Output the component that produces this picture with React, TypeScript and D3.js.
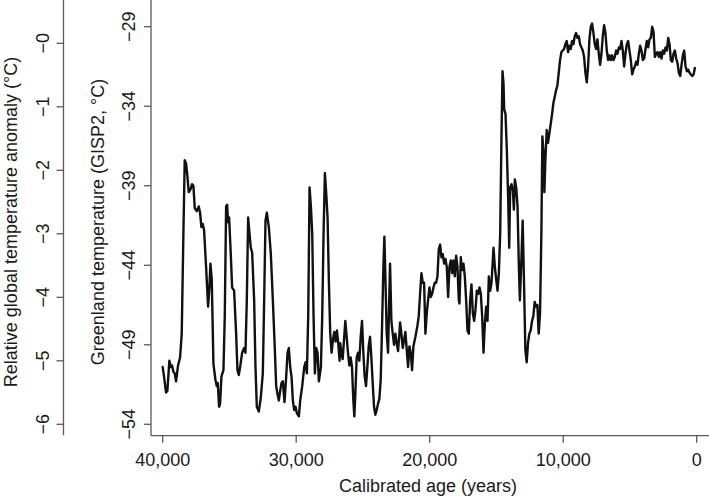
import React from "react";
import { scaleLinear, line, format } from "d3";

// GISP2 Greenland temperature: [calibrated age (yr), temp (°C)]
const gisp2Record: [number, number][] = [
  [40000, -50.4], [39900, -51.0], [39750, -52.0], [39650, -51.9], [39500, -50.0], [39400, -50.4],
  [39300, -50.3], [39200, -50.7], [39100, -50.8], [39000, -51.3], [38850, -50.3], [38700, -49.8],
  [38575, -48.3], [38450, -42.0], [38350, -37.4], [38250, -37.6], [38150, -38.4], [38050, -39.4],
  [37900, -39.2], [37800, -38.9], [37700, -39.0], [37600, -40.4], [37450, -40.6], [37300, -40.3],
  [37200, -40.7], [37100, -41.6], [37000, -41.4], [36900, -41.8], [36750, -44.1], [36600, -46.6],
  [36500, -45.4], [36425, -43.9], [36325, -44.9], [36200, -50.2], [36050, -51.2], [35950, -51.6],
  [35875, -51.4], [35775, -52.9], [35700, -52.7], [35600, -51.0], [35450, -50.6], [35350, -47.2],
  [35250, -40.3], [35175, -40.2], [35100, -41.3], [35025, -41.0], [34900, -43.3], [34800, -45.4],
  [34650, -45.6], [34500, -48.3], [34400, -50.6], [34300, -50.9], [34200, -50.4], [34050, -49.5],
  [33900, -49.2], [33800, -49.5], [33700, -46.2], [33600, -41.0], [33500, -42.0], [33400, -42.9],
  [33300, -43.2], [33150, -46.2], [33050, -50.4], [32950, -52.9], [32800, -53.2], [32650, -52.3],
  [32500, -50.8], [32400, -46.2], [32300, -41.2], [32200, -40.7], [32050, -41.6], [31900, -43.3],
  [31750, -46.2], [31600, -49.3], [31500, -51.6], [31400, -52.1], [31300, -52.5], [31200, -51.9],
  [31100, -51.4], [31000, -51.3], [30875, -52.6], [30750, -51.0], [30650, -49.5], [30550, -49.2],
  [30450, -50.4], [30350, -51.0], [30250, -52.5], [30150, -53.1], [30050, -52.9], [29950, -53.3],
  [29800, -53.5], [29700, -52.5], [29550, -51.6], [29400, -50.4], [29300, -50.1], [29200, -50.8],
  [29100, -47.2], [29000, -39.1], [28900, -40.3], [28800, -42.0], [28700, -47.2], [28600, -50.8],
  [28500, -49.2], [28400, -49.5], [28300, -51.3], [28150, -50.4], [28050, -47.2], [27950, -42.0],
  [27850, -38.2], [27750, -39.5], [27650, -41.0], [27550, -45.1], [27450, -48.3], [27350, -49.5],
  [27250, -48.7], [27150, -48.2], [27050, -48.8], [26950, -48.1], [26850, -48.9], [26750, -50.0],
  [26700, -48.9], [26620, -49.5], [26520, -49.9], [26420, -48.7], [26320, -47.5], [26220, -48.5],
  [26120, -49.5], [26020, -50.3], [25920, -49.8], [25820, -50.4], [25720, -52.5], [25645, -53.5],
  [25570, -52.1], [25470, -49.8], [25370, -49.5], [25270, -50.0], [25170, -48.5], [25070, -47.5],
  [24970, -49.5], [24870, -51.0], [24770, -51.6], [24670, -50.4], [24570, -49.1], [24470, -48.5],
  [24370, -49.8], [24270, -51.4], [24170, -52.9], [24070, -53.4], [23970, -53.1], [23870, -52.7],
  [23770, -52.4], [23670, -51.2], [23570, -47.9], [23470, -44.1], [23395, -42.2], [23320, -44.7],
  [23220, -48.3], [23120, -49.5], [23045, -46.6], [22970, -43.9], [22870, -47.5], [22770, -48.3],
  [22670, -49.0], [22570, -48.3], [22470, -48.9], [22370, -49.4], [22270, -48.3], [22220, -47.6],
  [22120, -48.3], [22020, -49.2], [21920, -48.7], [21820, -48.2], [21720, -49.3], [21620, -50.4],
  [21520, -49.1], [21420, -49.5], [21320, -50.6], [21220, -49.1], [21070, -48.5], [20920, -47.8],
  [20820, -47.2], [20720, -45.8], [20620, -44.5], [20520, -45.1], [20420, -45.1], [20320, -48.3],
  [20220, -47.0], [20120, -46.2], [20020, -45.4], [19920, -46.0], [19820, -45.8], [19720, -45.4],
  [19620, -45.1], [19520, -45.1], [19420, -44.7], [19320, -43.0], [19220, -42.7], [19120, -43.5],
  [19020, -43.3], [18920, -43.9], [18820, -43.6], [18720, -44.1], [18620, -46.0], [18520, -44.1],
  [18420, -43.7], [18320, -44.5], [18220, -43.7], [18120, -44.7], [18020, -43.4], [17920, -44.1],
  [17820, -46.2], [17770, -46.4], [17670, -43.5], [17570, -44.3], [17470, -43.9], [17370, -44.7],
  [17270, -46.2], [17170, -48.1], [17070, -48.3], [16970, -46.2], [16870, -45.2], [16770, -47.0],
  [16670, -47.5], [16570, -46.8], [16470, -45.6], [16370, -45.8], [16270, -45.4], [16170, -45.8],
  [16070, -47.2], [15970, -49.5], [15870, -47.7], [15770, -46.6], [15670, -47.5], [15570, -44.7],
  [15470, -45.6], [15370, -45.1], [15220, -42.9], [15120, -44.1], [15020, -44.9], [14920, -45.6],
  [14820, -44.5], [14720, -42.0], [14620, -35.7], [14545, -31.8], [14470, -32.6], [14420, -34.2],
  [14320, -34.5], [14220, -36.8], [14120, -39.9], [14045, -42.9], [13970, -39.1], [13870, -38.9],
  [13770, -39.3], [13695, -40.5], [13620, -38.6], [13520, -39.1], [13420, -40.3], [13320, -44.1],
  [13245, -46.2], [13135, -43.7], [13035, -41.2], [12935, -45.1], [12835, -49.3], [12735, -50.1],
  [12635, -48.9], [12535, -48.3], [12435, -48.1], [12335, -47.5], [12235, -47.2], [12135, -46.3],
  [12035, -46.6], [11935, -46.5], [11835, -48.3], [11735, -47.0], [11635, -42.0], [11560, -35.9],
  [11485, -36.8], [11410, -39.4], [11335, -37.4], [11235, -35.5], [11135, -36.3], [11035, -35.7],
  [10935, -35.1], [10835, -34.5], [10735, -33.8], [10635, -33.4], [10535, -33.0], [10435, -32.7],
  [10335, -31.9], [10235, -31.1], [10135, -30.6], [10035, -30.5], [9935, -30.4], [9835, -30.1],
  [9735, -29.9], [9635, -30.6], [9535, -30.2], [9435, -30.4], [9335, -29.9], [9235, -30.1],
  [9135, -29.6], [9035, -29.4], [8935, -29.7], [8835, -29.6], [8735, -30.1], [8635, -30.3],
  [8535, -30.5], [8435, -30.9], [8335, -31.9], [8235, -32.5], [8135, -31.5], [8035, -29.8],
  [7935, -29.0], [7835, -28.8], [7735, -29.4], [7635, -30.1], [7535, -30.4], [7435, -29.8],
  [7335, -30.7], [7235, -31.4], [7135, -30.7], [7035, -29.6], [6935, -28.9], [6835, -29.4],
  [6735, -30.5], [6635, -31.1], [6535, -30.8], [6435, -31.1], [6335, -30.8], [6235, -31.1],
  [6135, -30.9], [6035, -30.5], [5935, -30.7], [5835, -30.3], [5735, -30.4], [5635, -29.9],
  [5535, -30.5], [5435, -31.5], [5335, -30.7], [5235, -30.1], [5135, -29.9], [5035, -30.5],
  [4935, -31.1], [4835, -32.0], [4735, -31.7], [4635, -31.5], [4535, -31.2], [4435, -31.4],
  [4335, -30.7], [4235, -30.2], [4135, -30.5], [4035, -31.1], [3935, -31.0], [3835, -30.4],
  [3735, -29.9], [3635, -30.3], [3535, -29.8], [3435, -29.7], [3335, -29.0], [3235, -29.3],
  [3135, -30.9], [3035, -30.7], [2935, -30.6], [2835, -30.9], [2735, -30.6], [2635, -31.0],
  [2535, -30.5], [2435, -30.7], [2335, -30.3], [2235, -30.5], [2135, -29.7], [2035, -30.1],
  [1935, -31.1], [1835, -31.2], [1735, -30.7], [1635, -30.5], [1535, -31.0], [1435, -31.3],
  [1335, -31.9], [1235, -32.1], [1135, -31.4], [1035, -30.8], [935, -30.5], [835, -31.5],
  [735, -31.8], [635, -31.7], [535, -31.9], [435, -32.0], [335, -32.1], [235, -32.0], [135, -31.6],
];

const ageTicks = [40000, 30000, 20000, 10000, 0];
const greenlandTicks = [-29, -34, -39, -44, -49, -54];
const globalTicks = [0, -1, -2, -3, -4, -5, -6];

const xTitle = "Calibrated age (years)";
const greenlandTitle = "Greenland temperature (GISP2, \u00b0C)";
const globalTitle = "Relative global temperature anomaly (\u00b0C)";

const W = 709;
const H = 498;
const FONT = "'Liberation Sans', Arial, Helvetica, sans-serif";
const axisCol = "#5a5a5a";
const textCol = "#1a1a1a";

// R style negative labels ("−0" included)
const neg = (v: number) => "\u2212" + Math.abs(v);

export default function App() {
  const x = scaleLinear().domain([40000, 0]).range([162.7, 696.7]);
  const yG = scaleLinear().domain([-29, -54]).range([26.7, 424.3]);
  const yA = scaleLinear().domain([0, -6]).range([43.3, 424.3]);

  const innerX = 151;
  const outerX = 63.5;
  const baseY = 435.7;
  const tick = 7;
  const fmt = format(",");

  const linePath = line<[number, number]>()
    .x(d => x(d[0]))
    .y(d => yG(d[1]))(gisp2Record);

  return (
    <svg
      width={W}
      height={H}
      style={{ position: "absolute", left: 0, top: 0, background: "#fff" }}
      fontFamily={FONT}
    >
      <rect width={W} height={H} fill="#fff" />

      {/* outer axis: global anomaly */}
      <line x1={outerX} x2={outerX} y1={0} y2={baseY - 0.5} stroke={axisCol} strokeWidth={1.3} />
      {globalTicks.map(t => (
        <g key={"g" + t}>
          <line x1={outerX - tick} x2={outerX} y1={yA(t)} y2={yA(t)} stroke={axisCol} strokeWidth={1.3} />
          <text
            transform={`translate(49,${yA(t)}) rotate(-90)`}
            textAnchor="middle"
            fontSize={18}
            fill={textCol}
          >
            {neg(t)}
          </text>
        </g>
      ))}
      <text transform="translate(16.5,222) rotate(-90)" textAnchor="middle" fontSize={18} fill={textCol}>
        {globalTitle}
      </text>

      {/* inner axis: Greenland */}
      <line x1={innerX} x2={innerX} y1={0} y2={baseY} stroke={axisCol} strokeWidth={1.3} />
      {greenlandTicks.map(t => (
        <g key={"i" + t}>
          <line x1={innerX - tick} x2={innerX} y1={yG(t)} y2={yG(t)} stroke={axisCol} strokeWidth={1.3} />
          <text
            transform={`translate(135,${yG(t)}) rotate(-90)`}
            textAnchor="middle"
            fontSize={18}
            fill={textCol}
          >
            {neg(t)}
          </text>
        </g>
      ))}
      <text transform="translate(103.5,222) rotate(-90)" textAnchor="middle" fontSize={18} fill={textCol}>
        {greenlandTitle}
      </text>

      {/* bottom axis */}
      <line x1={innerX} x2={W} y1={baseY} y2={baseY} stroke={axisCol} strokeWidth={1.3} />
      {ageTicks.map(t => (
        <g key={"a" + t}>
          <line x1={x(t)} x2={x(t)} y1={baseY} y2={baseY + tick} stroke={axisCol} strokeWidth={1.3} />
          <text x={x(t)} y={465.7} textAnchor="middle" fontSize={18} fill={textCol}>
            {fmt(t)}
          </text>
        </g>
      ))}
      <text x={428} y={492} textAnchor="middle" fontSize={18} fill={textCol}>
        {xTitle}
      </text>

      {/* record */}
      <path d={linePath ?? ""} fill="none" stroke="#111" strokeWidth={2.4} strokeLinejoin="round" strokeLinecap="round" />
    </svg>
  );
}
